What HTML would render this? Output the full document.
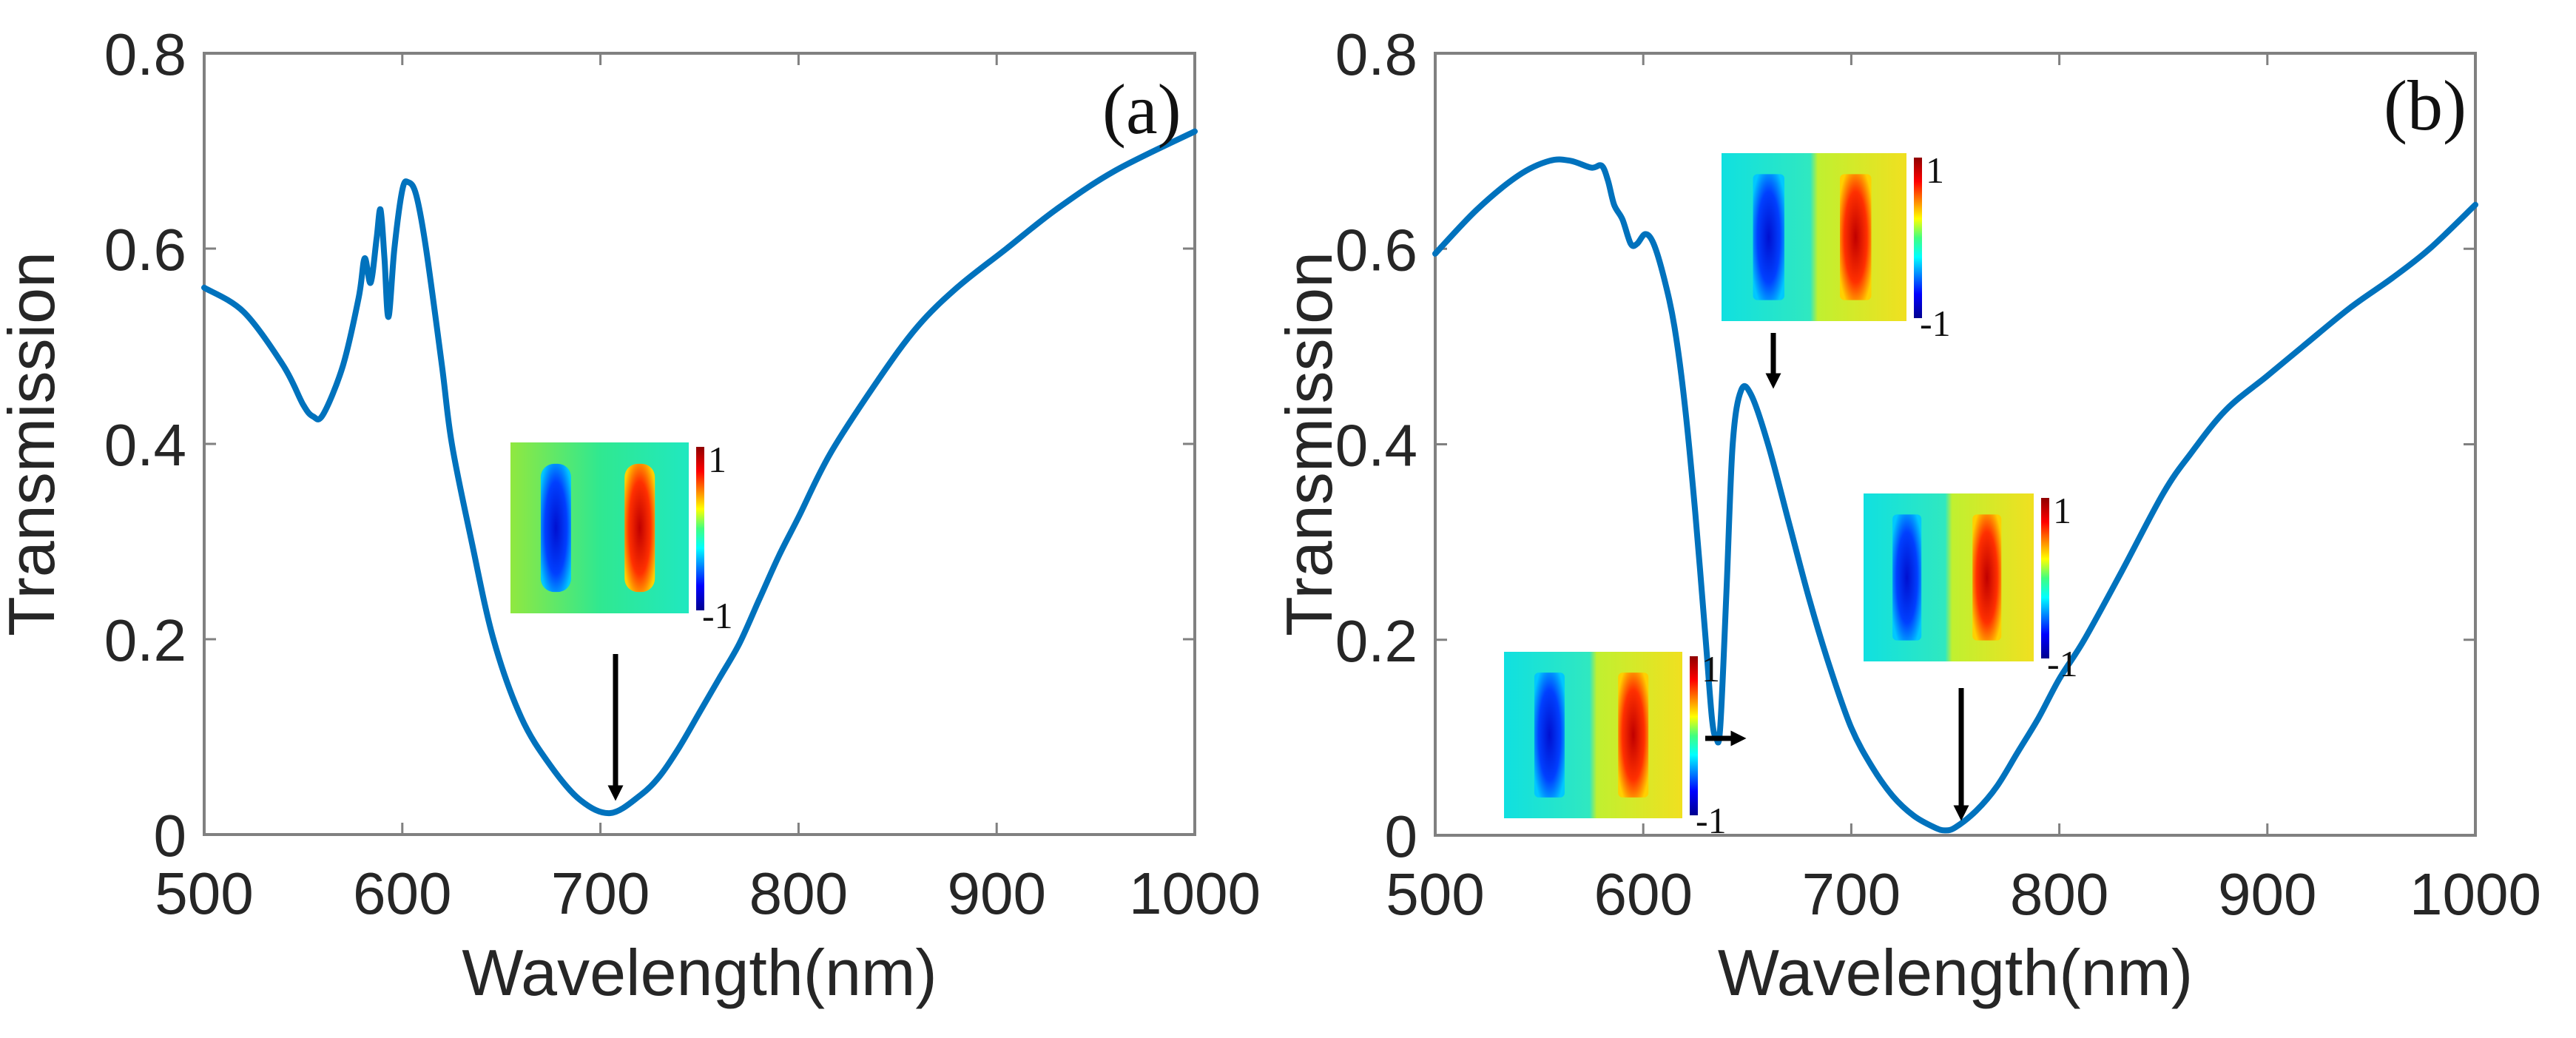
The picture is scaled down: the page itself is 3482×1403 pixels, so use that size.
<!DOCTYPE html>
<html><head><meta charset="utf-8"><style>
html,body{margin:0;padding:0;background:#fff;}
svg{display:block;}
text{font-family:"Liberation Sans",Arial,sans-serif;fill:#262626;}
.serif{font-family:"Liberation Serif","Times New Roman",serif;fill:#111;}
</style></head><body>
<svg id="chart" width="3482" height="1403" viewBox="0 0 3482 1403" xmlns="http://www.w3.org/2000/svg">
<defs>
  <radialGradient id="gBlue" cx="50%" cy="50%" r="60%"><stop offset="0" stop-color="#0010d0"/><stop offset="0.6" stop-color="#0040ff"/><stop offset="1" stop-color="#00c8ff"/></radialGradient>
  <radialGradient id="gRed" cx="50%" cy="50%" r="60%"><stop offset="0" stop-color="#c00000"/><stop offset="0.6" stop-color="#ff3000"/><stop offset="1" stop-color="#ffd000"/></radialGradient>
  <linearGradient id="cbar" x1="0" y1="1" x2="0" y2="0"><stop offset="0" stop-color="#00008f"/><stop offset="0.15" stop-color="#0000ff"/><stop offset="0.38" stop-color="#00ffff"/><stop offset="0.5" stop-color="#40ff80"/><stop offset="0.62" stop-color="#ffff00"/><stop offset="0.85" stop-color="#ff0000"/><stop offset="1" stop-color="#8f0000"/></linearGradient>
  <linearGradient id="bgA" x1="0" y1="0" x2="1" y2="0"><stop offset="0" stop-color="#90e840"/><stop offset="0.5" stop-color="#30e890"/><stop offset="1" stop-color="#20e8c0"/></linearGradient>
  <linearGradient id="bgB" x1="0" y1="0" x2="1" y2="0"><stop offset="0" stop-color="#10e0e0"/><stop offset="0.48" stop-color="#30e8c0"/><stop offset="0.52" stop-color="#c0f030"/><stop offset="1" stop-color="#f0e020"/></linearGradient>
  <marker id="ah" viewBox="0 0 10 10" refX="5" refY="5" markerWidth="3" markerHeight="3" orient="auto"><path d="M0,0 L10,5 L0,10 z" fill="#000"/></marker>
</defs>
</svg>
<script>
// Panel (a) data
const wlA = [500,520,540,550,555,560,570,578,581,584,587,589,591,593,596,600,603,607,612,620,625,635,646,660,675,690,705,720,730,740,750,760,770,780,790,800,816,840,860,880,905,930,960,1000];
const tA  = [0.56,0.535,0.48,0.44,0.428,0.43,0.48,0.55,0.59,0.565,0.61,0.64,0.59,0.53,0.6,0.66,0.668,0.655,0.6,0.48,0.4,0.3,0.2,0.12,0.07,0.035,0.022,0.04,0.06,0.09,0.125,0.16,0.195,0.24,0.285,0.325,0.39,0.465,0.52,0.56,0.6,0.64,0.68,0.72];
// Panel (b) data
const wlB = [500,520,540,555,565,575,580,583,586,590,594,597,601,605,610,615,620,625,630,633,635,637,640,643,647,652,660,670,680,690,700,710,720,730,740,745,750,760,770,780,790,800,812,830,850,863,880,900,917,940,960,978,1000];
const tB  = [0.595,0.64,0.675,0.69,0.69,0.683,0.685,0.67,0.645,0.63,0.605,0.605,0.615,0.605,0.57,0.52,0.44,0.33,0.2,0.12,0.1,0.11,0.25,0.4,0.455,0.45,0.4,0.32,0.24,0.17,0.11,0.07,0.04,0.02,0.008,0.005,0.008,0.025,0.05,0.085,0.12,0.16,0.2,0.27,0.35,0.39,0.435,0.47,0.5,0.54,0.57,0.6,0.645];
const xTicks = [500,600,700,800,900,1000];
const yTicks = [0,0.2,0.4,0.6,0.8];
const yTickLabels = ['0','0.2','0.4','0.6','0.8'];

const NS='http://www.w3.org/2000/svg';
const svg=document.getElementById('chart');
function mk(tag,attrs,parent){const e=document.createElementNS(NS,tag);for(const k in attrs)e.setAttribute(k,attrs[k]);(parent||svg).appendChild(e);return e;}

function smoothPath(pts){
  let d='M'+pts[0][0].toFixed(1)+','+pts[0][1].toFixed(1);
  for(let i=0;i<pts.length-1;i++){
    const p0=pts[Math.max(0,i-1)],p1=pts[i],p2=pts[i+1],p3=pts[Math.min(pts.length-1,i+2)];
    const c1x=p1[0]+(p2[0]-p0[0])/6,c1y=p1[1]+(p2[1]-p0[1])/6;
    const c2x=p2[0]-(p3[0]-p1[0])/6,c2y=p2[1]-(p3[1]-p1[1])/6;
    d+=' C'+c1x.toFixed(1)+','+c1y.toFixed(1)+' '+c2x.toFixed(1)+','+c2y.toFixed(1)+' '+p2[0].toFixed(1)+','+p2[1].toFixed(1);
  }
  return d;
}

function drawPanel(id,L,R,T,B,wl,tr,label,ytx,labX,labY){
  const g=mk('g',{});
  
  
  const xs=v=>L+(v-500)/500*(R-L);
  const ys=v=>B-(v/0.8)*(B-T);
  xTicks.forEach(v=>{
    const x=xs(v);
    const t1=mk('line',{x1:x,y1:B,x2:x,y2:B-16,stroke:'#808080','stroke-width':3},g);
    
    
    const t2=mk('line',{x1:x,y1:T,x2:x,y2:T+16,stroke:'#808080','stroke-width':3},g);
    
    
    const tx=mk('text',{x:x,y:B+107,'font-size':80,'text-anchor':'middle'},g);
    tx.textContent=String(v);
    
    
  });
  yTicks.forEach((v,i)=>{
    const y=ys(v);
    const t1=mk('line',{x1:L,y1:y,x2:L+16,y2:y,stroke:'#808080','stroke-width':3},g);
    
    
    const t2=mk('line',{x1:R,y1:y,x2:R-16,y2:y,stroke:'#808080','stroke-width':3},g);
    
    
    const tx=mk('text',{x:L-24,y:y+29,'font-size':80,'text-anchor':'end'},g);
    tx.textContent=yTickLabels[i];
    
    
  });
  const box=mk('rect',{x:L,y:T,width:R-L,height:B-T,fill:'none',stroke:'#808080','stroke-width':4},g);
  
  
  const pts=wl.map((v,i)=>[xs(v),ys(tr[i])]);
  const p=mk('path',{d:smoothPath(pts),fill:'none',stroke:'#0072BD','stroke-width':8,'stroke-linejoin':'round','stroke-linecap':'round'},g);
  
  
  const xt=mk('text',{x:(L+R)/2,y:1345,'font-size':88,'text-anchor':'middle'},g);
  xt.textContent='Wavelength(nm)';
  
  
  const yt=mk('text',{x:0,y:0,'font-size':88,'text-anchor':'middle',transform:'translate('+(ytx+30)+',600) rotate(-90)'},g);
  yt.textContent='Transmission';
  
  
  const pl=mk('text',{x:labX,y:labY,'font-size':96,class:'serif'},g);
  pl.textContent=label;
  
  
}

function inset(name,x,y,w,h,bg,bars){
  const g=mk('g',{});
  
  
  mk('rect',{x:x,y:y,width:w,height:h,fill:bg},g);
  const bw=w*0.17, bh=h*0.75, by=y+h*0.125;
  mk('rect',{x:x+w*0.17,y:by,width:bw,height:bh,rx:bars?6:18,fill:'url(#gBlue)'},g);
  mk('rect',{x:x+w*0.64,y:by,width:bw,height:bh,rx:bars?6:18,fill:'url(#gRed)'},g);
  const cb=mk('rect',{x:x+w+10,y:y+6,width:11,height:h-10,fill:'url(#cbar)'},g);
  
  
  const t1=mk('text',{x:x+w+26,y:y+40,'font-size':50,class:'serif'},g);
  t1.textContent='1';
  
  
  const t2=mk('text',{x:x+w+18,y:y+h+20,'font-size':50,class:'serif'},g);
  t2.textContent='-1';
  
  
}
function arrow(name,x1,y1,x2,y2){
  const a=mk('line',{x1:x1,y1:y1,x2:x2,y2:y2,stroke:'#000','stroke-width':7,'marker-end':'url(#ah)'});
  
  
}

drawPanel('a',276,1615,72,1128,wlA,tA,'(a)',43,1490,180);
drawPanel('b',1940,3346,72,1129,wlB,tB,'(b)',1770,3222,175);

inset('field-map-inset-a',690,598,241,231,'url(#bgA)',false);
arrow('resonance-arrow-a',832,884,832,1072);
inset('field-map-inset-b-top',2327,207,250,227,'url(#bgB)',true);
arrow('resonance-arrow-b-peak',2397,450,2397,515);
inset('field-map-inset-b-right',2519,667,230,227,'url(#bgB)',true);
arrow('resonance-arrow-b-min',2651,930,2651,1099);
inset('field-map-inset-b-left',2033,881,241,225,'url(#bgB)',true);
arrow('resonance-arrow-b-dip',2305,998,2350,998);
</script>
</body></html>
